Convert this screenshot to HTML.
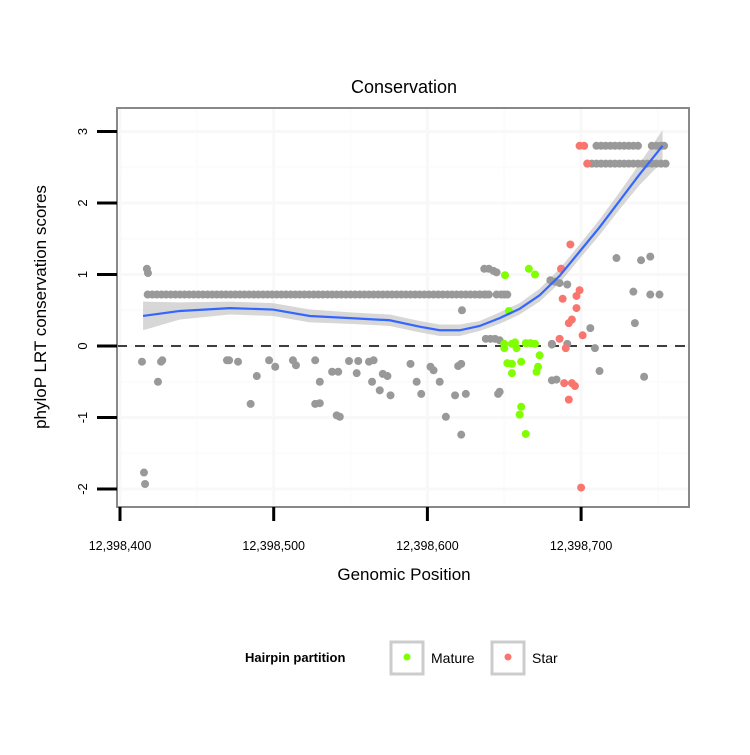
<!DOCTYPE html>
<html><head><meta charset="utf-8"><style>
body{margin:0;background:#fff;font-family:"Liberation Sans",sans-serif;}
</style></head><body>
<svg id="chart" width="750" height="750" xmlns="http://www.w3.org/2000/svg">
<rect width="750" height="750" fill="#fff"/>
<g id="grid"></g>
<g id="ribbon-g"></g>
<line x1="117" x2="689" y1="346" y2="346" stroke="#000" stroke-width="1.6" stroke-dasharray="10,8"/>
<g id="pts"></g>
<g id="line-g"></g>
<rect x="117" y="108" width="572" height="399" fill="none" stroke="#888" stroke-width="2"/>
<g id="axes"></g>
<text x="404" y="93" font-size="18" text-anchor="middle">Conservation</text>
<text x="404" y="580" font-size="17" text-anchor="middle">Genomic Position</text>
<text transform="translate(46,307) rotate(-90)" font-size="17" text-anchor="middle">phyloP LRT conservation scores</text>
<g>
<text x="245" y="662" font-size="13" font-weight="bold">Hairpin partition</text>
<rect x="391" y="642" width="32" height="32" fill="#fff" stroke="#ccc" stroke-width="3"/>
<circle cx="407" cy="657" r="3.5" fill="#7fff00"/>
<text x="431" y="663" font-size="14">Mature</text>
<rect x="492" y="642" width="32" height="32" fill="#fff" stroke="#ccc" stroke-width="3"/>
<circle cx="508" cy="657" r="3.5" fill="#f8766d"/>
<text x="532" y="663" font-size="14">Star</text>
</g>
</svg>
<script>
const BASE = 12398400;
const xTicks = [0,100,200,300];
const xTickLabels = ["12,398,400","12,398,500","12,398,600","12,398,700"];
const yTicks = [-2,-1,0,1,2,3];
const yTickLabels = ["-2","-1","0","1","2","3"];
const bandX = [18,21,24,27,30,33,36,39,42,45,48,51,54,57,60,63,66,69,72,75,78,81,84,87,90,93,96,99,102,105,108,111,114,117,120,123,126,129,132,135,138,141,144,147,150,153,156,159,162,165,168,171,174,177,180,183,186,189,192,195,198,201,204,207,210,213,216,219,222,225,228,231,234,237,240];
const bandY = bandX.map(()=>0.72);
const grayX = [17.5,18.2,14.3,26.7,27.5,24.7,69.6,71,76.8,89,85,97,101,112.5,114.5,127,127,130,130,138,142,149,155,154,162,165,164,171,174,169,176,141,143,189,193,196,202,204,208,212,218,220,222,222.5,225,222,246,15.6,16.3,237,240,243,245,238,241,244,247,234,238,245,248,250,252,280,283,286,291,309,306,312,335,281,291,341,345,247,323,339,345,334,351,287,284,281,281];
const grayY = [1.08,1.02,-0.22,-0.22,-0.2,-0.5,-0.2,-0.2,-0.22,-0.42,-0.81,-0.2,-0.29,-0.2,-0.27,-0.2,-0.81,-0.8,-0.5,-0.36,-0.36,-0.21,-0.21,-0.38,-0.22,-0.2,-0.5,-0.39,-0.42,-0.62,-0.69,-0.97,-0.99,-0.25,-0.5,-0.67,-0.29,-0.34,-0.5,-0.99,-0.69,-0.28,-0.25,0.5,-0.67,-1.24,-0.67,-1.77,-1.93,1.08,1.08,1.05,1.03,0.1,0.1,0.1,0.08,0.72,0.72,0.72,0.72,0.72,0.72,0.92,0.9,0.88,0.86,-0.03,0.25,-0.35,0.32,0.03,0.03,-0.43,0.72,-0.64,1.23,1.2,1.25,0.76,0.72,1.08,-0.47,-0.48,0.02];
const grayRowX = [310,313,316,319,322,325,328,331,334,337,346,349,352,354,304,307,310,313,316,319,322,325,328,331,334,337,340,343,346,349,352,355];
const grayRowY = [2.8,2.8,2.8,2.8,2.8,2.8,2.8,2.8,2.8,2.8,2.8,2.8,2.8,2.8,2.55,2.55,2.55,2.55,2.55,2.55,2.55,2.55,2.55,2.55,2.55,2.55,2.55,2.55,2.55,2.55,2.55,2.55];
const matureX = [250.5,266,270,253,250,255,258,264,267,270,273,252,255,261,255,272,271,261,260,264,257,250];
const matureY = [0.99,1.08,1.0,0.49,0.03,0.03,-0.03,0.04,0.04,0.03,-0.13,-0.24,-0.25,-0.22,-0.38,-0.29,-0.36,-0.85,-0.96,-1.23,0.05,-0.03];
const starX = [293,287,288,299,297,297,292,294,301,286,290,289,294,296,292,300,299,302,304];
const starY = [1.42,1.08,0.66,0.78,0.7,0.53,0.32,0.37,0.15,0.1,-0.03,-0.52,-0.52,-0.56,-0.75,-1.98,2.8,2.8,2.55];
const fitX = [15,39,71.5,99.5,123.5,150,175.5,195,208,221,234,247,260,273,286,299,312,325,338,353];
const fitY = [0.42,0.49,0.53,0.51,0.42,0.39,0.36,0.27,0.22,0.22,0.28,0.39,0.52,0.71,0.98,1.32,1.66,2.03,2.4,2.8];
const fitSE = [0.2,0.12,0.09,0.09,0.09,0.08,0.08,0.08,0.08,0.08,0.07,0.08,0.08,0.09,0.1,0.1,0.11,0.12,0.15,0.22];

const NS="http://www.w3.org/2000/svg";
const sx = v => 120 + v*1.537;
const sy = v => 346 - v*71.5;
function mk(tag, attrs, parent){const e=document.createElementNS(NS,tag);for(const k in attrs)e.setAttribute(k,attrs[k]);parent.appendChild(e);return e;}
const grid=document.getElementById('grid');
[50,150,250,350].forEach(v=>{const l=mk('line',{x1:sx(v),x2:sx(v),y1:108,y2:507,stroke:'#fcfcfc','stroke-width':2},grid);

});
[-1.5,-0.5,0.5,1.5,2.5].forEach(v=>{const l=mk('line',{x1:117,x2:689,y1:sy(v),y2:sy(v),stroke:'#fcfcfc','stroke-width':2},grid);

});
xTicks.forEach(v=>{const l=mk('line',{x1:sx(v),x2:sx(v),y1:108,y2:507,stroke:'#f8f8f8','stroke-width':3},grid);

});
yTicks.forEach(v=>{const l=mk('line',{x1:117,x2:689,y1:sy(v),y2:sy(v),stroke:'#f8f8f8','stroke-width':3},grid);

});
let up=fitX.map((x,i)=>sx(x)+','+sy(fitY[i]+fitSE[i]));
let dn=fitX.map((x,i)=>sx(x)+','+sy(fitY[i]-fitSE[i])).reverse();
const rb=mk('polygon',{points:up.concat(dn).join(' '),fill:'#bdbdbd','fill-opacity':0.6},document.getElementById('ribbon-g'));


const ln=mk('polyline',{points:fitX.map((x,i)=>sx(x)+','+sy(fitY[i])).join(' '),fill:'none',stroke:'#3366ff','stroke-width':2.2},document.getElementById('line-g'));


const pts=document.getElementById('pts');
function drawPts(xs,ys,col,name){xs.forEach((x,i)=>{const c=mk('circle',{cx:sx(x),cy:sy(ys[i]),r:4,fill:col},pts);

});}
drawPts(bandX,bandY,'#999','point-other');
drawPts(grayX,grayY,'#999','point-other');
drawPts(grayRowX,grayRowY,'#999','point-other');
drawPts(matureX,matureY,'#7fff00','point-mature');
drawPts(starX,starY,'#f8766d','point-star');
const ax=document.getElementById('axes');
xTicks.forEach((v,i)=>{const t=mk('line',{x1:sx(v),x2:sx(v),y1:507,y2:521,stroke:'#000','stroke-width':3},ax);


const tx=mk('text',{x:sx(v),y:550,'font-size':12.5,'text-anchor':'middle'},ax);tx.textContent=xTickLabels[i];

});
yTicks.forEach((v,i)=>{const t=mk('line',{x1:97,x2:117,y1:sy(v),y2:sy(v),stroke:'#000','stroke-width':3},ax);


const tx=mk('text',{transform:`translate(87,${sy(v)}) rotate(-90)`,'font-size':13,'text-anchor':'middle'},ax);tx.textContent=yTickLabels[i];

});
</script>
</body></html>
